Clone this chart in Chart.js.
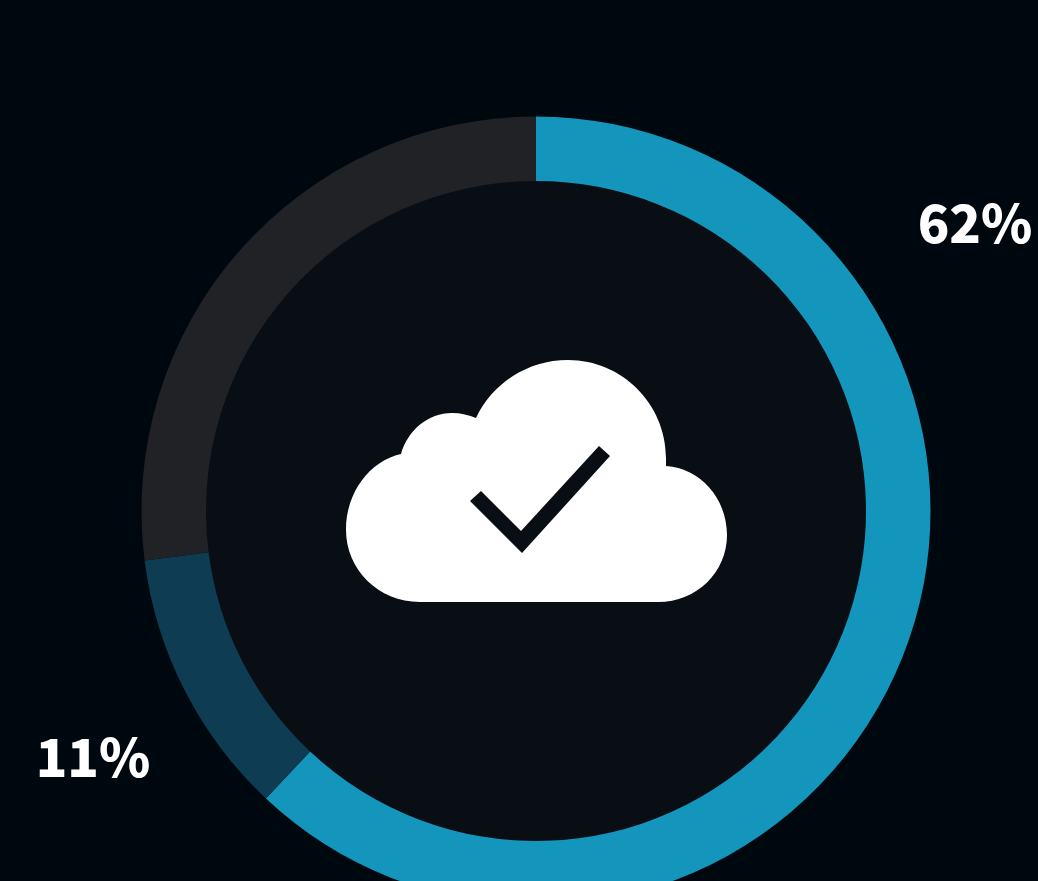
<!DOCTYPE html>
<html>
<head>
<meta charset="utf-8">
<title>Cloud share</title>
<script src="https://cdn.jsdelivr.net/npm/chart.js@4"></script>
<style>
    html, body { margin: 0; width: 1038px; height: 881px; overflow: hidden; background: #00080f; }
    #chartBox { position: absolute; left: 0; top: 0; }
</style>
</head>
<body>
<div id="chartBox"><canvas id="donut" width="1072" height="1022"></canvas></div>
<script>
const categories = ['Segment 1', 'Segment 2', 'Segment 3'];
const shares = [62, 11, 27];
const shownLabels = ['62%', '11%', null];

const sliceColors = ['#1395bc', '#0e3c53', '#202226'];
const labelSpots = [[975, 223.5], [93, 757.5], null];

const cloud = new Path2D('M420 602C378 602 346 569 346 530C346 492 370 461 401 454C408 430 428 413 452 413C461 413 469 415 476 418C492 384 527 360 568 360C622 360 666 404 666 458L666 466C700 468 727 498 727 535C727 572 697 602 658 602Z');
const tick = new Path2D('M599 446L610 456L522 553L470 501L481 491L521 531Z');

// inner disc goes under the arcs, cloud and percent text on top
const decorations = {
    id: 'decorations',
    beforeDatasetsDraw(chart) {
        const arc = chart.getDatasetMeta(0).data[0];
        const ctx = chart.ctx;
        ctx.save();
        ctx.fillStyle = '#090e15';
        ctx.beginPath();
        ctx.arc(arc.x, arc.y, arc.innerRadius + 0.5, 0, Math.PI * 2);
        ctx.fill();
        ctx.restore();
    },
    afterDraw(chart) {
        const ctx = chart.ctx;
        ctx.save();
        ctx.fillStyle = '#ffffff';
        ctx.fill(cloud);
        ctx.fillStyle = '#090e15';
        ctx.fill(tick);

        ctx.fillStyle = '#ffffff';
        ctx.font = '900 52px "Noto Sans CJK SC"';
        ctx.textAlign = 'center';
        ctx.textBaseline = 'middle';
        shownLabels.forEach((text, i) => {
            if (text) {
                ctx.fillText(text, labelSpots[i][0], labelSpots[i][1]);
            }
        });
        ctx.restore();
    }
};

new Chart(document.getElementById('donut'), {
    type: 'doughnut',
    data: {
        labels: categories,
        datasets: [{
            data: shares,
            backgroundColor: sliceColors,
            borderWidth: 0
        }]
    },
    options: {
        responsive: false,
        animation: false,
        cutout: 330,
        layout: { padding: { left: 141.5, right: 141.5, top: 116.5, bottom: 116.5 } },
        plugins: {
            legend: { display: false },
            tooltip: { enabled: false }
        }
    },
    plugins: [decorations]
});
</script>
</body>
</html>
